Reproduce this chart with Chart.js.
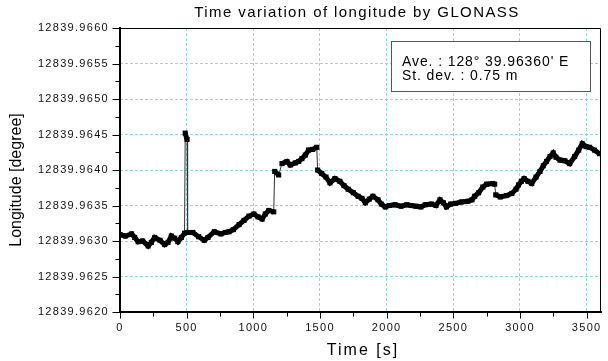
<!DOCTYPE html>
<html>
<head>
<meta charset="utf-8">
<script src="https://cdn.jsdelivr.net/npm/chart.js@4.4.1/dist/chart.umd.min.js"></script>
<style>
  html, body { margin: 0; padding: 0; background: #ffffff; }
  #wrap { width: 608px; height: 361px; }
</style>
</head>
<body>
<div id="wrap"><canvas id="chart" width="608" height="361"></canvas></div>
<script>
// Elapsed time of each fix [s]
const timeSec = [0,40,87,110,136,170,211,235,260,300,335,360,385,410,434,460,484,489,503,507,
  546,590,632,660,707,757,790,818,850,893,930,967,1004,1035,1066,1090,1116,1153,1160,1190,
  1215,1252,1277,1315,1340,1364,1390,1414,1445,1476,1482,1513,1545,1575,1612,1649,1680,1711,1750,1786,
  1815,1840,1870,1897,1935,1960,1990,2020,2063,2108,2150,2183,2220,2257,2290,2336,2370,2400,2425,2448,
  2480,2517,2560,2609,2640,2660,2690,2721,2750,2795,2810,2818,2852,2900,2939,2970,2989,3010,3031,3060,
  3088,3120,3150,3175,3199,3225,3249,3270,3300,3336,3373,3410,3440,3467,3495,3522,3559,3596];

// Longitude of each fix, in degree-minute notation (ddmm.mmmmm)
const longitude = [12839.96309,12839.96307,12839.96310,12839.96305,12839.96299,12839.96300,12839.96293,12839.96298,12839.96305,12839.96301,
  12839.96295,12839.96298,12839.96307,12839.96304,12839.96299,12839.96305,12839.96311,12839.96452,12839.96443,12839.96312,
  12839.96312,12839.96306,12839.96301,12839.96305,12839.96313,12839.96310,12839.96312,12839.96313,12839.96316,12839.96323,
  12839.96329,12839.96335,12839.96338,12839.96334,12839.96331,12839.96338,12839.96343,12839.96341,12839.96398,12839.96393,
  12839.96409,12839.96412,12839.96407,12839.96410,12839.96412,12839.96416,12839.96421,12839.96428,12839.96429,12839.96432,
  12839.96400,12839.96395,12839.96390,12839.96382,12839.96388,12839.96384,12839.96378,12839.96373,12839.96368,12839.96363,
  12839.96360,12839.96354,12839.96359,12839.96363,12839.96358,12839.96352,12839.96348,12839.96350,12839.96351,12839.96349,
  12839.96351,12839.96350,12839.96349,12839.96348,12839.96351,12839.96352,12839.96350,12839.96358,12839.96354,12839.96348,
  12839.96352,12839.96353,12839.96355,12839.96356,12839.96358,12839.96363,12839.96368,12839.96376,12839.96380,12839.96381,
  12839.96380,12839.96365,12839.96362,12839.96364,12839.96367,12839.96373,12839.96379,12839.96384,12839.96388,12839.96384,
  12839.96381,12839.96390,12839.96398,12839.96406,12839.96412,12839.96419,12839.96424,12839.96418,12839.96414,12839.96413,
  12839.96409,12839.96419,12839.96428,12839.96437,12839.96433,12839.96432,12839.96428,12839.96423];

// Axis ticks
const xTickValues = [0, 500, 1000, 1500, 2000, 2500, 3000, 3500];
const xMinorTicks = [250, 750, 1250, 1750, 2250, 2750, 3250];
const yTickValues = [12839.9620, 12839.9625, 12839.9630, 12839.9635, 12839.9640, 12839.9645, 12839.9650, 12839.9655, 12839.9660];
const yMinorTicks = [12839.96225, 12839.96275, 12839.96325, 12839.96375, 12839.96425, 12839.96475, 12839.96525, 12839.96575];

// Texts
const chartTitle = 'Time variation of longitude by GLONASS';
const xTitle = 'Time [s]';
const yTitle = 'Longitude [degree]';
const statLines = ["Ave. : 128\u00B0 39.96360' E", 'St. dev. : 0.75 m'];

const points = timeSec.map((t, i) => ({ x: t, y: longitude[i] }));
const JUMP = 0.00012;

const FONT = '"Liberation Sans", Arial, sans-serif';

// Frame, tick marks, titles and the statistics box
const decorations = {
  id: 'decorations',
  beforeDraw(chart) {
    chart.ctx.letterSpacing = '1.3px';
  },
  afterDraw(chart) {
    const { ctx, chartArea: a, scales: { x, y } } = chart;
    ctx.save();
    ctx.strokeStyle = '#000';
    ctx.lineCap = 'square';

    // tick marks
    ctx.lineWidth = 1;
    ctx.beginPath();
    xTickValues.forEach(v => { const p = Math.round(x.getPixelForValue(v)) + 0.5; ctx.moveTo(p, a.bottom); ctx.lineTo(p, a.bottom + 6); });
    xMinorTicks.forEach(v => { const p = Math.round(x.getPixelForValue(v)) + 0.5; ctx.moveTo(p, a.bottom); ctx.lineTo(p, a.bottom + 4); });
    yTickValues.forEach(v => { const p = Math.round(y.getPixelForValue(v)) + 0.5; ctx.moveTo(a.left - 7, p); ctx.lineTo(a.left, p); });
    yMinorTicks.forEach(v => { const p = Math.round(y.getPixelForValue(v)) + 0.5; ctx.moveTo(a.left - 4, p); ctx.lineTo(a.left, p); });
    ctx.stroke();

    // frame: top and right thin, left and bottom heavy
    ctx.lineWidth = 1;
    ctx.beginPath();
    ctx.moveTo(a.left, a.top + 0.5); ctx.lineTo(a.right + 0.5, a.top + 0.5);
    ctx.lineTo(a.right + 0.5, a.bottom);
    ctx.stroke();
    ctx.lineWidth = 2;
    ctx.beginPath();
    ctx.moveTo(a.left, a.top); ctx.lineTo(a.left, a.bottom); ctx.lineTo(a.right + 1, a.bottom);
    ctx.stroke();

    // statistics box
    ctx.lineWidth = 1;
    ctx.strokeStyle = '#555';
    ctx.fillStyle = '#fff';
    ctx.fillRect(392, 42, 199, 50);
    ctx.strokeRect(391.5, 41.5, 199, 50);
    ctx.fillStyle = '#000';
    ctx.font = '14px ' + FONT;
    ctx.letterSpacing = '0.9px';
    ctx.textAlign = 'left';
    ctx.textBaseline = 'alphabetic';
    ctx.fillText(statLines[0], 402, 66);
    ctx.fillText(statLines[1], 402, 80);

    // chart title
    ctx.font = '15px ' + FONT;
    ctx.letterSpacing = '1.4px';
    ctx.textAlign = 'center';
    ctx.fillText(chartTitle, 357, 17);

    // x axis title
    ctx.font = '16px ' + FONT;
    ctx.letterSpacing = '2px';
    ctx.fillText(xTitle, 363, 355);

    // y axis title
    ctx.letterSpacing = '0px';
    ctx.translate(21, 180);
    ctx.rotate(-Math.PI / 2);
    ctx.fillText(yTitle, 0, 0);
    ctx.restore();
  }
};

new Chart(document.getElementById('chart'), {
  type: 'scatter',
  data: {
    datasets: [{
      data: points,
      showLine: true,
      borderColor: '#000',
      backgroundColor: '#000',
      borderWidth: 5,
      pointStyle: 'rect',
      pointRadius: 3.6,
      pointBorderWidth: 0,
      segment: {
        borderWidth: c => Math.abs(c.p1.parsed.y - c.p0.parsed.y) > JUMP ? 1 : 5,
        borderColor: c => Math.abs(c.p1.parsed.y - c.p0.parsed.y) > JUMP ? '#333' : '#000'
      }
    }]
  },
  options: {
    responsive: false,
    animation: false,
    devicePixelRatio: 1,
    layout: { padding: { top: 28, right: 4, left: 0, bottom: 0 } },
    plugins: { legend: { display: false }, tooltip: { enabled: false }, title: { display: false } },
    scales: {
      x: {
        type: 'linear',
        min: 0,
        max: 3600,
        afterBuildTicks: s => { s.ticks = xTickValues.map(v => ({ value: v })); },
        afterFit: s => { s.height = 49; },
        grid: { color: '#8fd9d9', lineWidth: 1, drawTicks: false },
        border: { display: false, dash: [3, 2] },
        ticks: { padding: 9, color: '#111', font: { family: FONT, size: 11 }, maxRotation: 0, autoSkip: false,
                 callback: v => String(v) }
      },
      y: {
        type: 'linear',
        min: 12839.962,
        max: 12839.966,
        afterBuildTicks: s => { s.ticks = yTickValues.map(v => ({ value: v })); },
        afterFit: s => { s.width = 120; },
        grid: { color: '#8fd9d9', lineWidth: 1, drawTicks: false },
        border: { display: false, dash: [3, 2] },
        ticks: { padding: 11, color: '#111', font: { family: FONT, size: 11 }, callback: v => Number(v).toFixed(4) }
      }
    }
  },
  plugins: [decorations]
});
</script>
</body>
</html>
